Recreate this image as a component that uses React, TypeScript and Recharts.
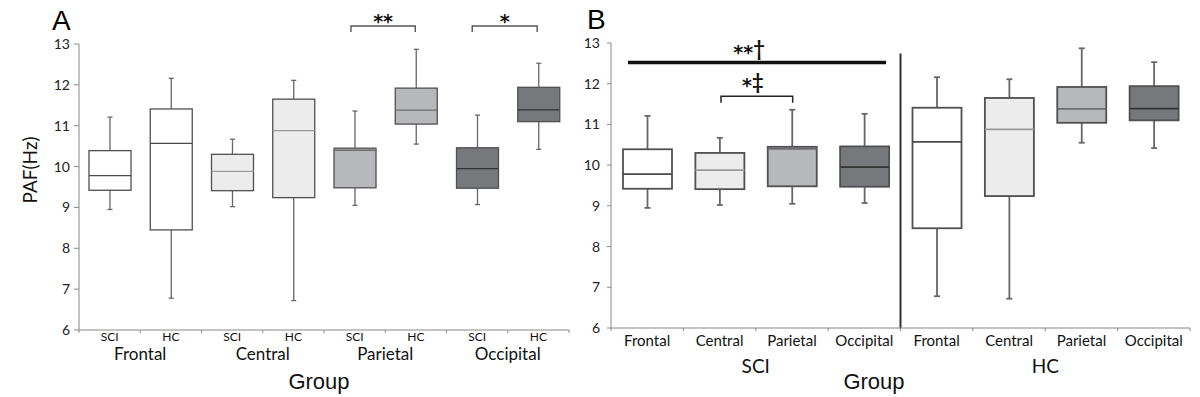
import React from 'react'
import { ComposedChart, Bar, XAxis, YAxis, ReferenceLine } from 'recharts'

const regions = ['Frontal', 'Central', 'Parietal', 'Occipital']
const groups = ['SCI', 'HC']

// box order: Frontal SCI, Frontal HC, Central SCI, Central HC, Parietal SCI, Parietal HC, Occipital SCI, Occipital HC
const whiskerLow = [8.95, 6.78, 9.02, 6.72, 9.05, 10.55, 9.07, 10.42]
const q1 = [9.42, 8.45, 9.41, 9.24, 9.48, 11.04, 9.47, 11.1]
const median = [9.78, 10.57, 9.88, 10.88, 10.4, 11.38, 9.95, 11.39]
const q3 = [10.39, 11.41, 10.3, 11.65, 10.45, 11.92, 10.46, 11.94]
const whiskerHigh = [11.21, 12.16, 10.67, 12.11, 11.36, 12.87, 11.26, 12.53]

const yTicks = [6, 7, 8, 9, 10, 11, 12, 13]
const xTicks = Array.from({ length: 17 }, (_, i) => i / 2)

const regionFill = ['#ffffff', '#ececec', '#b7b8bb', '#77787c']
const medianStroke = ['#4a4a4a', '#9a9a9a', '#6e6e6e', '#333333']

const boxAt = (i: number, x: number) => ({
  x,
  range: [whiskerLow[i], whiskerHigh[i]],
  q1: q1[i],
  median: median[i],
  q3: q3[i],
  region: Math.floor(i / 2),
})

const dataA = whiskerLow.map((_, i) => boxAt(i, i + 0.5))
const orderB = [0, 2, 4, 6, 1, 3, 5, 7]
const dataB = orderB.map((i, k) => boxAt(i, k + 0.5))

const makeBox = (boxW: number, sw: number, capW: number) => (props: any) => {
  const { x, y, width, height, payload } = props
  if (payload == null) return null
  const top = Math.min(y, y + height)
  const h = Math.abs(height)
  const [lo, hi] = payload.range
  const py = (v: number) => top + ((hi - v) / (hi - lo)) * h
  const cx = x + width / 2
  const whisk = '#676767'
  return (
    <g>
      <line x1={cx} x2={cx} y1={py(hi)} y2={py(payload.q3)} stroke={whisk} strokeWidth={sw} />
      <line x1={cx} x2={cx} y1={py(payload.q1)} y2={py(lo)} stroke={whisk} strokeWidth={sw} />
      <line x1={cx - capW / 2} x2={cx + capW / 2} y1={py(hi)} y2={py(hi)} stroke={whisk} strokeWidth={sw} />
      <line x1={cx - capW / 2} x2={cx + capW / 2} y1={py(lo)} y2={py(lo)} stroke={whisk} strokeWidth={sw} />
      <rect
        x={cx - boxW / 2}
        y={py(payload.q3)}
        width={boxW}
        height={py(payload.q1) - py(payload.q3)}
        fill={regionFill[payload.region]}
        stroke="#505050"
        strokeWidth={sw}
      />
      <line
        x1={cx - boxW / 2}
        x2={cx + boxW / 2}
        y1={py(payload.median)}
        y2={py(payload.median)}
        stroke={medianStroke[payload.region]}
        strokeWidth={sw}
      />
    </g>
  )
}

const bracket = (drop: number, stroke: string, sw: number) => (p: any) => (
  <path
    d={`M${p.x1},${p.y1 + drop} L${p.x1},${p.y1} L${p.x2},${p.y2} L${p.x2},${p.y2 + drop}`}
    fill="none"
    stroke={stroke}
    strokeWidth={sw}
  />
)

// stars in a heavier face, dagger marks raised a little
const markLabel = (stars: string, dagger: string, dx: number, lift: number) => (p: any) => {
  const vb = p.viewBox
  return (
    <text x={vb.x + vb.width / 2 + dx} y={vb.y - lift} textAnchor="middle" fill="#111">
      <tspan fontFamily="'DejaVu Sans', sans-serif" fontWeight="bold" fontSize={19}>
        {stars}
      </tspan>
      {dagger && (
        <tspan fontFamily="Lato, sans-serif" fontWeight="bold" fontSize={20} dy={-3}>
          {dagger}
        </tspan>
      )}
    </text>
  )
}

const TickA = (props: any) => {
  const { x, y, payload } = props
  const v = payload.value
  if (Number.isInteger(v)) {
    return (
      <g>
        <line x1={x} x2={x} y1={y} y2={y + 3} stroke="#888" />
        {v % 2 === 1 && (
          <text x={x} y={y + 30} textAnchor="middle" fontSize={17} fill="#111">
            {regions[(v - 1) / 2]}
          </text>
        )}
      </g>
    )
  }
  const i = v - 0.5
  return (
    <text x={x} y={y + 11} textAnchor="middle" fontSize={12} fill="#111">
      {groups[i % 2]}
    </text>
  )
}

const TickB = (props: any) => {
  const { x, y, payload } = props
  const v = payload.value
  if (Number.isInteger(v)) {
    return (
      <g>
        <line x1={x} x2={x} y1={y} y2={y + 3} stroke="#888" />
        {(v === 2 || v === 6) && (
          <text x={x} y={y + 45} textAnchor="middle" fontSize={19} fill="#111">
            {groups[v === 2 ? 0 : 1]}
          </text>
        )}
      </g>
    )
  }
  const i = v - 0.5
  return (
    <text x={x} y={y + 17.5} textAnchor="middle" fontSize={15} fill="#111">
      {regions[i % 4]}
    </text>
  )
}

const yTick = { fontSize: 14, fill: '#222' }

export default function App() {
  return (
    <div
      style={{
        position: 'absolute',
        left: 0,
        top: 0,
        width: 1200,
        height: 397,
        background: '#fff',
        fontFamily: 'Lato, sans-serif',
      }}
    >
      <div style={{ position: 'absolute', left: 0, top: 0 }}>
        <ComposedChart width={600} height={397} data={dataA} margin={{ top: 44, right: 31, bottom: 27, left: 29 }}>
          <XAxis
            dataKey="x"
            type="number"
            domain={[0, 8]}
            ticks={xTicks}
            interval={0}
            height={40}
            tickSize={0}
            tickMargin={0}
            tickLine={false}
            axisLine={{ stroke: '#888' }}
            tick={<TickA />}
          />
          <YAxis
            type="number"
            domain={[6, 13]}
            ticks={yTicks}
            interval={0}
            width={50}
            tickSize={5}
            tickMargin={4}
            axisLine={{ stroke: '#888' }}
            tickLine={{ stroke: '#888' }}
            tick={yTick}
            allowDataOverflow
          />
          <Bar dataKey="range" barSize={42} shape={makeBox(42, 1.3, 5)} isAnimationActive={false} />
          <ReferenceLine
            segment={[{ x: 4.44, y: 13.44 }, { x: 5.49, y: 13.44 }]}
            ifOverflow="visible"
            shape={bracket(6, '#555', 1.4)}
            label={markLabel('**', '', 0, -2)}
          />
          <ReferenceLine
            segment={[{ x: 6.42, y: 13.44 }, { x: 7.48, y: 13.44 }]}
            ifOverflow="visible"
            shape={bracket(6, '#555', 1.4)}
            label={markLabel('*', '', 0, -2)}
          />
        </ComposedChart>
      </div>
      <div style={{ position: 'absolute', left: 560, top: 0 }}>
        <ComposedChart width={640} height={397} data={dataB} margin={{ top: 43, right: 10, bottom: 29, left: 6 }}>
          <XAxis
            dataKey="x"
            type="number"
            domain={[0, 8]}
            ticks={xTicks}
            interval={0}
            height={40}
            tickSize={0}
            tickMargin={0}
            tickLine={false}
            axisLine={{ stroke: '#888' }}
            tick={<TickB />}
          />
          <YAxis
            type="number"
            domain={[6, 13]}
            ticks={yTicks}
            interval={0}
            width={45}
            tickSize={4}
            tickMargin={7}
            axisLine={{ stroke: '#888' }}
            tickLine={{ stroke: '#888' }}
            tick={yTick}
            allowDataOverflow
          />
          <Bar dataKey="range" barSize={49} shape={makeBox(49, 1.8, 6)} isAnimationActive={false} />
          <ReferenceLine
            segment={[{ x: 4, y: 6 }, { x: 4, y: 12.74 }]}
            ifOverflow="visible"
            stroke="#333"
            strokeWidth={2}
          />
          <ReferenceLine
            segment={[{ x: 0.235, y: 12.52 }, { x: 3.8, y: 12.52 }]}
            ifOverflow="visible"
            stroke="#111"
            strokeWidth={3.5}
            label={markLabel('**', '†', -8, 4)}
          />
          <ReferenceLine
            segment={[{ x: 1.52, y: 11.69 }, { x: 2.51, y: 11.69 }]}
            ifOverflow="visible"
            shape={bracket(6.5, '#222', 1.5)}
            label={markLabel('*', '‡', -4, 4.5)}
          />
        </ComposedChart>
      </div>
      <svg
        width={1200}
        height={397}
        style={{ position: 'absolute', left: 0, top: 0, pointerEvents: 'none' }}
      >
        <text x={52} y={30} fontSize={28} fontFamily="'Liberation Sans', Arial, sans-serif" fill="#000">
          A
        </text>
        <text x={587} y={29} fontSize={28} fontFamily="'Liberation Sans', Arial, sans-serif" fill="#000">
          B
        </text>
        <text x={37} y={170} fontSize={19} textAnchor="middle" transform="rotate(-90, 37, 170)" fill="#111">
          PAF(Hz)
        </text>
        <text x={319} y={389} fontSize={22} textAnchor="middle" fontFamily="'Liberation Sans', Arial, sans-serif" fill="#111">
          Group
        </text>
        <text x={874} y={389} fontSize={22} textAnchor="middle" fontFamily="'Liberation Sans', Arial, sans-serif" fill="#111">
          Group
        </text>
      </svg>
    </div>
  )
}
